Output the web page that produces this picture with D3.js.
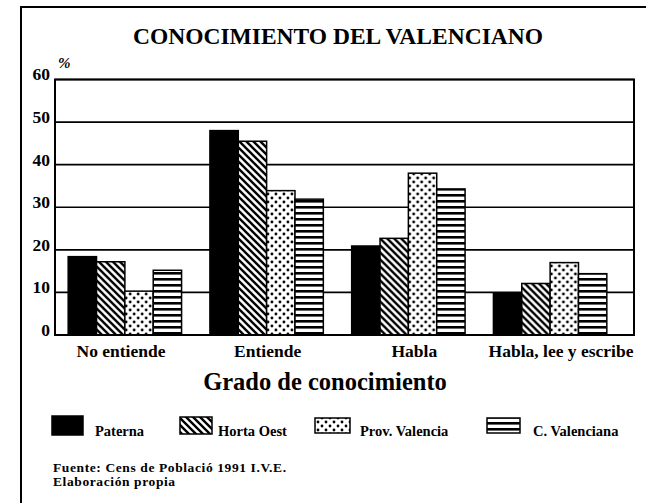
<!DOCTYPE html>
<html>
<head>
<meta charset="utf-8">
<script src="https://cdn.jsdelivr.net/npm/d3@7"></script>
<style>
  html, body { margin: 0; padding: 0; background: #fff; }
  svg { display: block; }
  text { font-family: "Liberation Serif", "Tinos", "Times New Roman", "DejaVu Serif", serif; font-weight: bold; fill: #000; }
</style>
</head>
<body>
<script>
// datos
const categorias = ["No entiende", "Entiende", "Habla", "Habla, lee y escribe"];
const series = ["Paterna", "Horta Oest", "Prov. Valencia", "C. Valenciana"];
const paterna = [18.4, 48.0, 20.9, 9.8];
const hortaOest = [17.2, 45.5, 22.7, 12.1];
const provValencia = [10.3, 33.9, 38.0, 17.0];
const cValenciana = [15.2, 31.9, 34.3, 14.4];
const yTicks = [0, 10, 20, 30, 40, 50, 60];

const valores = [paterna, hortaOest, provValencia, cValenciana];

// lienzo
const width = 648, height = 503;
const svg = d3.select("body").append("svg")
  .attr("width", width).attr("height", height);

// patrones
const defs = svg.append("defs");
const pHatch = defs.append("pattern").attr("id", "p-hatch")
  .attr("patternUnits", "userSpaceOnUse").attr("width", 7).attr("height", 7);
pHatch.append("rect").attr("width", 7).attr("height", 7).attr("fill", "#fff");
pHatch.append("path").attr("d", "M-1,-1 L8,8 M-2,5 L2,9 M5,-2 L9,2")
  .attr("stroke", "#000").attr("stroke-width", 2.4);

const pDots = defs.append("pattern").attr("id", "p-dots")
  .attr("patternUnits", "userSpaceOnUse").attr("width", 8).attr("height", 8);
pDots.append("rect").attr("width", 8).attr("height", 8).attr("fill", "#fff");
pDots.append("circle").attr("cx", 2).attr("cy", 2).attr("r", 1.4).attr("fill", "#000");
pDots.append("circle").attr("cx", 6).attr("cy", 6).attr("r", 1.4).attr("fill", "#000");

const pLines = defs.append("pattern").attr("id", "p-lines")
  .attr("patternUnits", "userSpaceOnUse").attr("width", 6).attr("height", 6);
pLines.append("rect").attr("width", 6).attr("height", 6).attr("fill", "#fff");
pLines.append("rect").attr("y", 2).attr("width", 6).attr("height", 2.6).attr("fill", "#000");

const fills = ["#000", "url(#p-hatch)", "url(#p-dots)", "url(#p-lines)"];

// marco
svg.append("path")
  .attr("d", "M21,503 L21,7 L646,7")
  .attr("fill", "none").attr("stroke", "#000").attr("stroke-width", 2);

// titulo
svg.append("text")
  .attr("x", 338).attr("y", 44)
  .attr("text-anchor", "middle")
  .style("font-size", "23.5px")
  .text("CONOCIMIENTO DEL VALENCIANO");

// escalas
const plot = { left: 55, right: 634, top: 79.5, bottom: 335 };
const x0 = d3.scaleBand().domain(categorias)
  .range([54, 621]).paddingInner(0.2).paddingOuter(0.1);
const x1 = d3.scaleBand().domain(series).range([0, x0.bandwidth()]);
const y = d3.scaleLinear().domain([0, 60]).range([plot.bottom, plot.top]);
const xLabel = d3.scalePoint().domain(categorias).range([121, 561]);

// lineas de rejilla
svg.append("g").selectAll("line").data(yTicks).join("line")
  .attr("x1", plot.left).attr("x2", plot.right)
  .attr("y1", d => y(d)).attr("y2", d => y(d))
  .attr("stroke", "#000").attr("stroke-width", 1.6);

// eje y
const yAxis = d3.axisLeft(y).tickValues(yTicks).tickSize(0).tickPadding(5);
svg.append("g")
  .attr("transform", `translate(${plot.left},0)`)
  .call(yAxis)
  .call(g => {
    g.attr("font-family", null).attr("font-size", null);
    g.select(".domain").remove();
    g.selectAll("text")
      .attr("dy", "0.02em")
      .style("font-size", "17.5px");
  });

svg.append("text")
  .attr("x", 58).attr("y", 68)
  .style("font-size", "15px").style("font-style", "italic")
  .text("%");

// barras
const grupos = svg.append("g").selectAll("g").data(categorias).join("g")
  .attr("transform", d => `translate(${x0(d)},0)`);
grupos.selectAll("rect")
  .data((c, ci) => series.map((s, si) => ({ s, si, v: valores[si][ci] })))
  .join("rect")
  .attr("x", d => x1(d.s))
  .attr("width", x1.bandwidth())
  .attr("y", d => y(d.v))
  .attr("height", d => y(0) - y(d.v))
  .attr("fill", d => fills[d.si])
  .attr("stroke", "#000").attr("stroke-width", 1.5);

// borde del grafico
svg.append("rect")
  .attr("x", plot.left).attr("y", plot.top)
  .attr("width", plot.right - plot.left).attr("height", plot.bottom - plot.top)
  .attr("fill", "none").attr("stroke", "#000").attr("stroke-width", 2);

// etiquetas de categoria
svg.append("g").selectAll("text").data(categorias).join("text")
  .attr("x", d => xLabel(d)).attr("y", 357)
  .attr("text-anchor", "middle")
  .style("font-size", "17.5px")
  .text(d => d);

svg.append("text")
  .attr("x", 325).attr("y", 390)
  .attr("text-anchor", "middle")
  .style("font-size", "24.5px")
  .text("Grado de conocimiento");

// leyenda
const legendSwatch = [
  { x: 52, y: 416, w: 31, h: 19 },
  { x: 180, y: 417, w: 32, h: 17 },
  { x: 315, y: 418, w: 35, h: 15 },
  { x: 487, y: 418, w: 33, h: 15 }
];
const legendText = [95, 218, 360, 533];
const leyenda = svg.append("g").selectAll("g").data(series).join("g");
leyenda.append("rect")
  .attr("x", (d, i) => legendSwatch[i].x).attr("y", (d, i) => legendSwatch[i].y)
  .attr("width", (d, i) => legendSwatch[i].w).attr("height", (d, i) => legendSwatch[i].h)
  .attr("fill", (d, i) => fills[i])
  .attr("stroke", "#000").attr("stroke-width", 1.5);
leyenda.append("text")
  .attr("x", (d, i) => legendText[i]).attr("y", 436)
  .style("font-size", "14.5px")
  .text(d => d);

// fuente
svg.append("text")
  .attr("x", 53).attr("y", 472)
  .style("font-size", "13.5px").style("letter-spacing", "0.6px")
  .text("Fuente: Cens de Població 1991 I.V.E.");
svg.append("text")
  .attr("x", 53).attr("y", 486)
  .style("font-size", "13.5px").style("letter-spacing", "0.6px")
  .text("Elaboración propia");
</script>
</body>
</html>
